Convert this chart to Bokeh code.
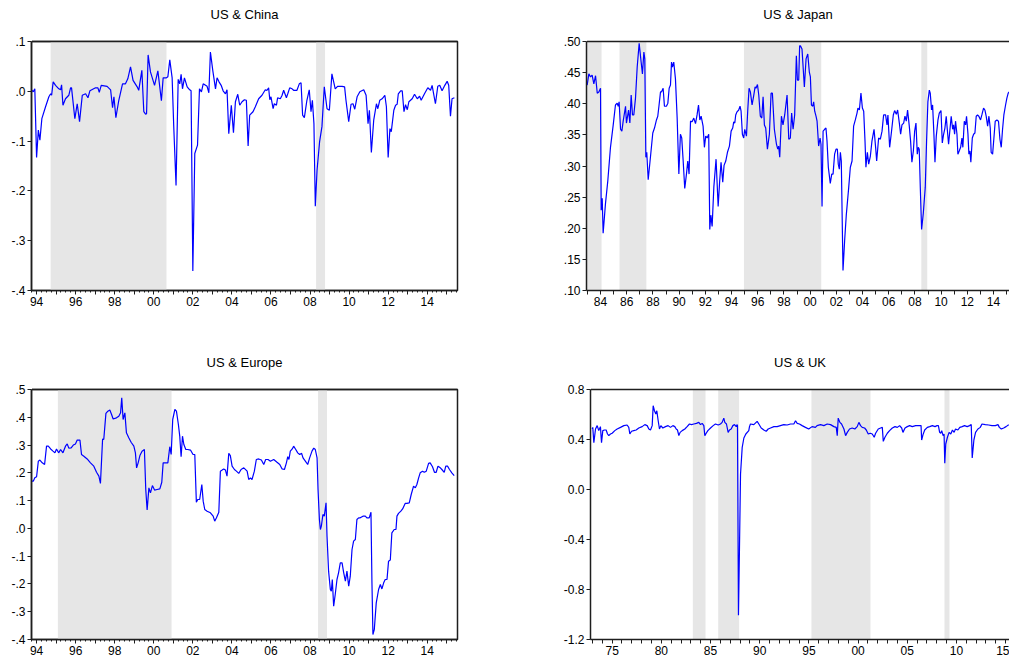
from bokeh.plotting import figure
from bokeh.models import Range1d, FixedTicker, ColumnDataSource, LinearAxis, Title
from bokeh.layouts import row, column
from bokeh.embed import file_html
from bokeh.resources import INLINE

# ---------------- data (decimal year, correlation) ----------------
china_pts = [
    (1993.74, 0.003), (1993.83, -0.001), (1993.91, 0.005), (1994.00, -0.133), (1994.09, -0.078),
    (1994.17, -0.098), (1994.27, -0.055), (1994.46, -0.031), (1994.63, -0.011), (1994.72, -0.005),
    (1994.77, -0.008), (1994.85, 0.019), (1994.97, 0.012), (1995.14, 0.005), (1995.23, 0.003),
    (1995.28, 0.013), (1995.35, -0.028), (1995.48, -0.015), (1995.65, -0.008), (1995.74, 0.007),
    (1995.79, 0.007), (1995.96, -0.055), (1996.08, -0.025), (1996.20, -0.061), (1996.34, -0.008),
    (1996.51, -0.005), (1996.63, -0.013), (1996.73, 0.001), (1997.02, 0.007), (1997.14, 0.007),
    (1997.21, -0.002), (1997.31, 0.012), (1997.61, 0.010), (1997.79, 0.003), (1997.89, -0.033),
    (1997.96, -0.011), (1998.06, -0.053), (1998.21, -0.018), (1998.40, 0.015), (1998.55, 0.015),
    (1998.67, 0.025), (1998.81, 0.049), (1998.94, 0.022), (1999.15, 0.009), (1999.23, 0.002),
    (1999.39, 0.042), (1999.49, -0.041), (1999.58, -0.046), (1999.63, -0.045), (1999.71, 0.073),
    (1999.83, 0.039), (2000.04, 0.012), (2000.21, 0.041), (2000.39, -0.019), (2000.48, 0.027),
    (2000.65, 0.027), (2000.72, 0.029), (2000.82, 0.063), (2000.94, 0.027), (2001.02, -0.068),
    (2001.14, -0.189), (2001.25, 0.024), (2001.33, 0.015), (2001.40, 0.034), (2001.47, 0.005),
    (2001.57, 0.027), (2001.71, 0.009), (2001.84, 0.003), (2001.91, 0.001), (2002.00, -0.361),
    (2002.10, -0.125), (2002.24, -0.108), (2002.34, 0.005), (2002.44, -0.001), (2002.53, 0.015),
    (2002.73, 0.010), (2002.82, -0.003), (2002.90, 0.079), (2003.02, 0.042), (2003.16, 0.005),
    (2003.24, 0.027), (2003.34, 0.019), (2003.45, 0.012), (2003.55, 0.001), (2003.67, -0.005),
    (2003.75, 0.003), (2003.84, -0.085), (2003.97, -0.028), (2004.08, -0.083), (2004.18, -0.021),
    (2004.30, -0.006), (2004.40, -0.028), (2004.52, -0.021), (2004.64, -0.017), (2004.74, -0.018),
    (2004.83, -0.110), (2004.91, -0.048), (2005.08, -0.041), (2005.20, -0.031), (2005.37, -0.015),
    (2005.54, -0.008), (2005.71, 0.003), (2005.80, 0.002), (2005.88, 0.007), (2005.94, -0.017),
    (2006.00, -0.011), (2006.11, -0.035), (2006.17, -0.025), (2006.28, -0.028), (2006.34, -0.013),
    (2006.48, -0.015), (2006.57, -0.008), (2006.65, 0.002), (2006.79, -0.013), (2006.86, -0.005),
    (2006.96, 0.007), (2007.08, 0.005), (2007.16, 0.002), (2007.33, 0.002), (2007.45, 0.015),
    (2007.54, 0.017), (2007.62, -0.048), (2007.71, -0.053), (2007.84, -0.018), (2007.96, 0.003),
    (2008.05, -0.041), (2008.12, -0.018), (2008.20, -0.065), (2008.27, -0.231), (2008.36, -0.158),
    (2008.49, -0.101), (2008.61, -0.071), (2008.73, 0.009), (2008.87, -0.035), (2008.99, -0.038),
    (2009.12, 0.035), (2009.29, 0.005), (2009.41, 0.010), (2009.64, 0.010), (2009.77, 0.009),
    (2009.84, -0.018), (2009.98, -0.061), (2010.10, -0.026), (2010.20, -0.025), (2010.29, -0.036),
    (2010.41, -0.011), (2010.55, -0.001), (2010.75, 0.003), (2010.87, -0.008), (2010.97, -0.065),
    (2011.04, -0.038), (2011.14, -0.123), (2011.26, -0.058), (2011.40, -0.025), (2011.47, -0.035),
    (2011.57, -0.018), (2011.69, -0.015), (2011.83, -0.008), (2011.91, -0.031), (2012.00, -0.133),
    (2012.09, -0.075), (2012.16, -0.081), (2012.29, -0.038), (2012.38, -0.028), (2012.46, -0.026),
    (2012.52, -0.005), (2012.64, 0.001), (2012.72, 0.001), (2012.81, -0.041), (2012.89, -0.027),
    (2012.98, -0.037), (2013.06, -0.021), (2013.23, -0.015), (2013.35, -0.006), (2013.49, -0.015),
    (2013.61, -0.010), (2013.69, -0.018), (2013.86, -0.005), (2014.03, 0.007), (2014.17, 0.002),
    (2014.25, 0.012), (2014.42, -0.025), (2014.54, 0.010), (2014.64, 0.012), (2014.76, 0.001),
    (2014.90, 0.012), (2015.02, 0.020), (2015.10, 0.012), (2015.19, -0.050), (2015.27, -0.015),
    (2015.39, -0.013),
]

japan_pts = [
    (1982.98, 0.430), (1983.11, 0.448), (1983.24, 0.443), (1983.36, 0.446), (1983.49, 0.432),
    (1983.62, 0.445), (1983.75, 0.417), (1983.87, 0.419), (1984.00, 0.425), (1984.05, 0.229),
    (1984.13, 0.248), (1984.20, 0.192), (1984.38, 0.240), (1984.56, 0.277), (1984.76, 0.330),
    (1984.97, 0.366), (1985.14, 0.398), (1985.27, 0.401), (1985.35, 0.396), (1985.42, 0.403),
    (1985.53, 0.359), (1985.63, 0.356), (1985.73, 0.372), (1985.91, 0.396), (1985.98, 0.369),
    (1986.14, 0.390), (1986.24, 0.369), (1986.34, 0.414), (1986.44, 0.382), (1986.54, 0.382),
    (1986.67, 0.409), (1986.80, 0.459), (1986.95, 0.497), (1987.10, 0.467), (1987.20, 0.448),
    (1987.31, 0.483), (1987.38, 0.472), (1987.46, 0.314), (1987.53, 0.322), (1987.64, 0.278),
    (1987.81, 0.314), (1987.99, 0.353), (1988.12, 0.361), (1988.27, 0.374), (1988.37, 0.380),
    (1988.47, 0.398), (1988.58, 0.419), (1988.65, 0.419), (1988.78, 0.425), (1988.88, 0.396),
    (1989.03, 0.396), (1989.14, 0.401), (1989.24, 0.425), (1989.34, 0.430), (1989.42, 0.467),
    (1989.49, 0.459), (1989.59, 0.467), (1989.72, 0.440), (1989.85, 0.377), (1989.98, 0.287),
    (1990.10, 0.351), (1990.20, 0.345), (1990.31, 0.308), (1990.43, 0.264), (1990.56, 0.287),
    (1990.66, 0.308), (1990.76, 0.287), (1990.87, 0.372), (1990.99, 0.371), (1991.12, 0.377),
    (1991.25, 0.368), (1991.37, 0.382), (1991.48, 0.398), (1991.58, 0.374), (1991.68, 0.380),
    (1991.83, 0.364), (1991.93, 0.330), (1992.03, 0.348), (1992.14, 0.345), (1992.26, 0.351),
    (1992.34, 0.198), (1992.42, 0.221), (1992.52, 0.203), (1992.65, 0.266), (1992.82, 0.311),
    (1992.98, 0.235), (1993.10, 0.277), (1993.20, 0.306), (1993.33, 0.274), (1993.43, 0.301),
    (1993.56, 0.308), (1993.69, 0.322), (1993.84, 0.332), (1993.97, 0.356), (1994.09, 0.361),
    (1994.17, 0.371), (1994.25, 0.369), (1994.32, 0.382), (1994.42, 0.387), (1994.55, 0.390),
    (1994.65, 0.396), (1994.73, 0.388), (1994.83, 0.351), (1994.93, 0.345), (1995.01, 0.359),
    (1995.14, 0.348), (1995.24, 0.390), (1995.34, 0.425), (1995.44, 0.419), (1995.57, 0.398),
    (1995.70, 0.414), (1995.80, 0.427), (1995.87, 0.425), (1995.98, 0.431), (1996.08, 0.414),
    (1996.20, 0.380), (1996.31, 0.377), (1996.41, 0.411), (1996.51, 0.366), (1996.61, 0.361),
    (1996.74, 0.327), (1996.89, 0.351), (1997.02, 0.417), (1997.12, 0.417), (1997.27, 0.359),
    (1997.43, 0.335), (1997.53, 0.327), (1997.60, 0.332), (1997.68, 0.314), (1997.81, 0.380),
    (1997.93, 0.366), (1998.06, 0.382), (1998.24, 0.414), (1998.37, 0.343), (1998.49, 0.345),
    (1998.59, 0.385), (1998.70, 0.359), (1998.82, 0.382), (1998.95, 0.477), (1999.03, 0.438),
    (1999.13, 0.438), (1999.20, 0.493), (1999.26, 0.493), (1999.38, 0.488), (1999.46, 0.461),
    (1999.56, 0.427), (1999.69, 0.472), (1999.82, 0.480), (1999.94, 0.451), (2000.02, 0.443),
    (2000.10, 0.398), (2000.20, 0.396), (2000.27, 0.403), (2000.35, 0.388), (2000.45, 0.380),
    (2000.53, 0.372), (2000.65, 0.332), (2000.76, 0.345), (2000.83, 0.335), (2000.91, 0.235),
    (2000.99, 0.356), (2001.11, 0.359), (2001.21, 0.361), (2001.29, 0.340), (2001.39, 0.298),
    (2001.54, 0.272), (2001.65, 0.287), (2001.75, 0.287), (2001.87, 0.319), (2001.98, 0.327),
    (2002.08, 0.327), (2002.15, 0.303), (2002.23, 0.295), (2002.31, 0.322), (2002.38, 0.308),
    (2002.51, 0.132), (2002.64, 0.182), (2002.76, 0.221), (2002.94, 0.264), (2003.07, 0.298),
    (2003.20, 0.308), (2003.32, 0.364), (2003.45, 0.374), (2003.58, 0.385), (2003.65, 0.393),
    (2003.76, 0.390), (2003.88, 0.417), (2003.99, 0.393), (2004.09, 0.388), (2004.19, 0.340),
    (2004.26, 0.298), (2004.37, 0.322), (2004.47, 0.303), (2004.60, 0.316), (2004.72, 0.340),
    (2004.88, 0.359), (2005.00, 0.330), (2005.08, 0.308), (2005.23, 0.345), (2005.36, 0.343),
    (2005.49, 0.356), (2005.61, 0.382), (2005.76, 0.382), (2005.87, 0.366), (2005.94, 0.382),
    (2006.07, 0.330), (2006.20, 0.353), (2006.35, 0.382), (2006.45, 0.389), (2006.58, 0.383),
    (2006.68, 0.390), (2006.81, 0.369), (2006.91, 0.351), (2007.01, 0.366), (2007.14, 0.369),
    (2007.24, 0.380), (2007.34, 0.372), (2007.44, 0.390), (2007.57, 0.364), (2007.67, 0.340),
    (2007.77, 0.306), (2007.88, 0.324), (2007.98, 0.356), (2008.08, 0.369), (2008.18, 0.319),
    (2008.26, 0.330), (2008.33, 0.327), (2008.41, 0.266), (2008.51, 0.198), (2008.64, 0.224),
    (2008.79, 0.266), (2008.89, 0.340), (2008.99, 0.403), (2009.10, 0.422), (2009.17, 0.417),
    (2009.27, 0.390), (2009.35, 0.398), (2009.45, 0.351), (2009.53, 0.306), (2009.63, 0.348),
    (2009.76, 0.374), (2009.86, 0.385), (2009.99, 0.389), (2010.09, 0.337), (2010.19, 0.351),
    (2010.29, 0.361), (2010.39, 0.380), (2010.47, 0.359), (2010.57, 0.335), (2010.65, 0.353),
    (2010.77, 0.380), (2010.88, 0.359), (2010.95, 0.366), (2011.03, 0.351), (2011.10, 0.372),
    (2011.21, 0.351), (2011.28, 0.319), (2011.38, 0.324), (2011.49, 0.330), (2011.59, 0.345),
    (2011.66, 0.330), (2011.77, 0.372), (2011.87, 0.366), (2011.94, 0.380), (2012.05, 0.351),
    (2012.12, 0.319), (2012.20, 0.324), (2012.27, 0.306), (2012.38, 0.345), (2012.48, 0.351),
    (2012.58, 0.353), (2012.68, 0.380), (2012.78, 0.382), (2012.88, 0.380), (2013.01, 0.374),
    (2013.11, 0.382), (2013.24, 0.393), (2013.34, 0.390), (2013.44, 0.380), (2013.55, 0.364),
    (2013.65, 0.380), (2013.75, 0.361), (2013.82, 0.322), (2013.93, 0.319), (2014.03, 0.345),
    (2014.13, 0.372), (2014.26, 0.374), (2014.38, 0.372), (2014.49, 0.343), (2014.59, 0.330),
    (2014.69, 0.359), (2014.79, 0.382), (2014.92, 0.398), (2015.02, 0.409), (2015.12, 0.417),
    (2015.20, 0.419),
]

europe_pts = [
    (1993.74, 0.170), (1993.83, 0.170), (1993.91, 0.182), (1994.00, 0.186), (1994.09, 0.242),
    (1994.17, 0.246), (1994.29, 0.236), (1994.41, 0.230), (1994.51, 0.296), (1994.60, 0.296),
    (1994.72, 0.286), (1994.84, 0.278), (1994.94, 0.272), (1995.02, 0.286), (1995.13, 0.272),
    (1995.23, 0.284), (1995.35, 0.272), (1995.48, 0.296), (1995.57, 0.304), (1995.65, 0.289),
    (1995.77, 0.290), (1995.88, 0.300), (1995.99, 0.304), (1996.08, 0.318), (1996.22, 0.318),
    (1996.30, 0.266), (1996.42, 0.260), (1996.59, 0.250), (1996.76, 0.236), (1996.93, 0.224),
    (1997.07, 0.202), (1997.19, 0.188), (1997.27, 0.162), (1997.38, 0.322), (1997.44, 0.320),
    (1997.55, 0.414), (1997.65, 0.422), (1997.75, 0.426), (1997.84, 0.410), (1997.92, 0.394),
    (1998.09, 0.398), (1998.21, 0.404), (1998.30, 0.416), (1998.36, 0.470), (1998.43, 0.392),
    (1998.52, 0.416), (1998.60, 0.344), (1998.72, 0.326), (1998.84, 0.310), (1998.98, 0.296),
    (1999.06, 0.272), (1999.12, 0.218), (1999.20, 0.236), (1999.29, 0.262), (1999.40, 0.278),
    (1999.52, 0.284), (1999.59, 0.140), (1999.66, 0.066), (1999.75, 0.146), (1999.83, 0.128),
    (1999.93, 0.154), (2000.04, 0.138), (2000.17, 0.140), (2000.31, 0.142), (2000.41, 0.166),
    (2000.48, 0.236), (2000.60, 0.236), (2000.72, 0.236), (2000.82, 0.294), (2000.89, 0.266),
    (2000.97, 0.392), (2001.08, 0.428), (2001.16, 0.422), (2001.26, 0.374), (2001.33, 0.332),
    (2001.40, 0.258), (2001.47, 0.332), (2001.54, 0.302), (2001.64, 0.284), (2001.74, 0.284),
    (2001.88, 0.282), (2002.01, 0.266), (2002.10, 0.266), (2002.18, 0.094), (2002.25, 0.104),
    (2002.35, 0.104), (2002.46, 0.158), (2002.53, 0.098), (2002.61, 0.068), (2002.73, 0.062),
    (2002.90, 0.056), (2003.04, 0.044), (2003.12, 0.026), (2003.21, 0.038), (2003.33, 0.058),
    (2003.41, 0.206), (2003.50, 0.210), (2003.58, 0.214), (2003.67, 0.210), (2003.75, 0.188),
    (2003.84, 0.270), (2003.92, 0.262), (2004.01, 0.224), (2004.13, 0.212), (2004.23, 0.206),
    (2004.35, 0.198), (2004.47, 0.212), (2004.61, 0.218), (2004.78, 0.206), (2004.86, 0.176),
    (2004.95, 0.182), (2005.03, 0.176), (2005.15, 0.206), (2005.25, 0.248), (2005.37, 0.250),
    (2005.51, 0.246), (2005.63, 0.230), (2005.73, 0.248), (2005.85, 0.248), (2005.97, 0.242),
    (2006.14, 0.248), (2006.31, 0.238), (2006.45, 0.230), (2006.57, 0.214), (2006.69, 0.212),
    (2006.79, 0.236), (2006.86, 0.258), (2006.92, 0.248), (2006.99, 0.278), (2007.09, 0.286),
    (2007.16, 0.296), (2007.27, 0.284), (2007.37, 0.272), (2007.47, 0.266), (2007.57, 0.270),
    (2007.64, 0.254), (2007.76, 0.242), (2007.88, 0.230), (2007.98, 0.254), (2008.10, 0.278),
    (2008.19, 0.289), (2008.27, 0.284), (2008.36, 0.254), (2008.41, 0.140), (2008.48, 0.032),
    (2008.53, -0.004), (2008.58, 0.008), (2008.66, 0.050), (2008.73, 0.044), (2008.82, 0.092),
    (2008.87, -0.028), (2008.95, -0.154), (2009.04, -0.220), (2009.09, -0.226), (2009.14, -0.184),
    (2009.21, -0.280), (2009.29, -0.238), (2009.38, -0.184), (2009.46, -0.160), (2009.55, -0.124),
    (2009.64, -0.124), (2009.72, -0.158), (2009.81, -0.190), (2009.89, -0.154), (2009.98, -0.208),
    (2010.06, -0.172), (2010.15, -0.076), (2010.23, -0.046), (2010.32, -0.040), (2010.40, 0.032),
    (2010.49, 0.038), (2010.57, 0.038), (2010.71, 0.044), (2010.83, 0.044), (2010.91, 0.038),
    (2011.03, 0.038), (2011.12, 0.058), (2011.17, -0.196), (2011.22, -0.382), (2011.29, -0.364),
    (2011.39, -0.268), (2011.51, -0.220), (2011.60, -0.202), (2011.68, -0.218), (2011.77, -0.196),
    (2011.85, -0.184), (2011.94, -0.184), (2012.02, -0.118), (2012.11, -0.114), (2012.19, -0.016),
    (2012.31, -0.004), (2012.40, -0.004), (2012.45, 0.044), (2012.53, 0.054), (2012.65, 0.062),
    (2012.74, 0.070), (2012.87, 0.090), (2012.96, 0.090), (2013.08, 0.092), (2013.18, 0.122),
    (2013.30, 0.152), (2013.39, 0.146), (2013.47, 0.158), (2013.56, 0.182), (2013.64, 0.200),
    (2013.76, 0.206), (2013.85, 0.202), (2013.95, 0.206), (2014.07, 0.234), (2014.15, 0.236),
    (2014.27, 0.222), (2014.37, 0.202), (2014.46, 0.202), (2014.55, 0.224), (2014.67, 0.218),
    (2014.75, 0.212), (2014.87, 0.202), (2014.95, 0.224), (2015.04, 0.224), (2015.14, 0.212),
    (2015.26, 0.200), (2015.38, 0.190),
]

uk_pts = [
    (1972.97, 0.484), (1973.03, 0.497), (1973.14, 0.375), (1973.31, 0.484), (1973.48, 0.511),
    (1973.64, 0.471), (1973.81, 0.503), (1973.92, 0.375), (1974.05, 0.471), (1974.22, 0.476),
    (1974.39, 0.476), (1974.53, 0.444), (1974.66, 0.431), (1974.83, 0.444), (1975.00, 0.450),
    (1975.27, 0.471), (1975.51, 0.484), (1975.85, 0.497), (1976.19, 0.511), (1976.52, 0.516),
    (1976.69, 0.497), (1976.80, 0.444), (1976.97, 0.466), (1977.20, 0.471), (1977.44, 0.476),
    (1977.71, 0.492), (1978.05, 0.503), (1978.32, 0.519), (1978.56, 0.511), (1978.73, 0.484),
    (1978.90, 0.476), (1979.07, 0.511), (1979.17, 0.670), (1979.30, 0.630), (1979.44, 0.604),
    (1979.54, 0.630), (1979.68, 0.550), (1979.81, 0.484), (1979.95, 0.511), (1980.15, 0.492),
    (1980.42, 0.503), (1980.69, 0.511), (1980.93, 0.497), (1981.17, 0.511), (1981.37, 0.503),
    (1981.51, 0.484), (1981.64, 0.476), (1981.78, 0.431), (1981.91, 0.457), (1982.12, 0.471),
    (1982.39, 0.484), (1982.62, 0.503), (1982.86, 0.524), (1983.07, 0.519), (1983.30, 0.524),
    (1983.57, 0.529), (1983.81, 0.537), (1983.98, 0.519), (1984.15, 0.529), (1984.32, 0.511),
    (1984.42, 0.431), (1984.56, 0.450), (1984.73, 0.471), (1985.00, 0.492), (1985.27, 0.511),
    (1985.50, 0.524), (1985.78, 0.516), (1986.01, 0.524), (1986.18, 0.537), (1986.35, 0.571),
    (1986.45, 0.537), (1986.62, 0.524), (1986.79, 0.457), (1986.93, 0.476), (1987.10, 0.484),
    (1987.27, 0.511), (1987.44, 0.519), (1987.61, 0.503), (1987.71, 0.519), (1987.74, 0.510),
    (1987.84, -1.006), (1987.94, -0.487), (1988.05, 0.124), (1988.22, 0.337), (1988.39, 0.412),
    (1988.59, 0.444), (1988.89, 0.471), (1988.96, 0.503), (1989.06, 0.524), (1989.40, 0.519),
    (1989.74, 0.545), (1989.91, 0.524), (1990.15, 0.492), (1990.42, 0.476), (1990.66, 0.466),
    (1990.86, 0.484), (1991.10, 0.492), (1991.44, 0.503), (1991.77, 0.503), (1992.11, 0.511),
    (1992.45, 0.519), (1992.79, 0.516), (1993.13, 0.524), (1993.47, 0.524), (1993.64, 0.550),
    (1993.81, 0.529), (1994.04, 0.524), (1994.31, 0.511), (1994.65, 0.497), (1994.98, 0.484),
    (1995.32, 0.503), (1995.66, 0.497), (1995.83, 0.511), (1996.18, 0.519), (1996.52, 0.511),
    (1996.86, 0.524), (1997.20, 0.519), (1997.54, 0.503), (1997.78, 0.497), (1997.88, 0.431),
    (1997.98, 0.571), (1998.15, 0.537), (1998.32, 0.524), (1998.56, 0.484), (1998.73, 0.431),
    (1998.90, 0.457), (1999.13, 0.484), (1999.40, 0.492), (1999.67, 0.484), (1999.91, 0.503),
    (2000.08, 0.537), (2000.25, 0.511), (2000.42, 0.497), (2000.66, 0.492), (2000.83, 0.476),
    (2001.03, 0.444), (2001.24, 0.450), (2001.44, 0.444), (2001.64, 0.418), (2001.78, 0.450),
    (2002.05, 0.484), (2002.29, 0.492), (2002.46, 0.497), (2002.56, 0.385), (2002.73, 0.418),
    (2002.97, 0.450), (2003.20, 0.471), (2003.48, 0.492), (2003.75, 0.503), (2003.99, 0.497),
    (2004.22, 0.511), (2004.43, 0.492), (2004.56, 0.457), (2004.77, 0.492), (2005.00, 0.503),
    (2005.24, 0.511), (2005.51, 0.503), (2005.85, 0.511), (2006.19, 0.511), (2006.40, 0.511),
    (2006.46, 0.396), (2006.60, 0.439), (2006.77, 0.476), (2007.04, 0.497), (2007.28, 0.503),
    (2007.55, 0.511), (2007.82, 0.503), (2008.02, 0.511), (2008.16, 0.511), (2008.29, 0.457),
    (2008.40, 0.450), (2008.50, 0.471), (2008.64, 0.431), (2008.74, 0.444), (2008.81, 0.210),
    (2008.91, 0.364), (2009.08, 0.418), (2009.25, 0.457), (2009.42, 0.444), (2009.59, 0.476),
    (2009.76, 0.457), (2009.90, 0.484), (2010.14, 0.476), (2010.34, 0.497), (2010.58, 0.503),
    (2010.82, 0.511), (2011.09, 0.503), (2011.33, 0.511), (2011.50, 0.519), (2011.60, 0.252),
    (2011.77, 0.396), (2011.94, 0.457), (2012.18, 0.484), (2012.42, 0.497), (2012.59, 0.524),
    (2012.93, 0.519), (2013.27, 0.516), (2013.61, 0.511), (2013.95, 0.511), (2014.22, 0.519),
    (2014.36, 0.497), (2014.56, 0.484), (2014.80, 0.492), (2015.04, 0.503), (2015.31, 0.519),
]

# shaded periods (start, end) in decimal years
china_shade_start = [1994.72, 2008.31]
china_shade_end = [2000.65, 2008.77]
japan_shade_start = [1982.90, 1985.45, 1994.95, 2008.49]
japan_shade_end = [1984.08, 1987.50, 2000.85, 2008.94]
europe_shade_start = [1995.09, 2008.41]
europe_shade_end = [2000.91, 2008.87]
uk_shade_start = [1983.20, 1985.78, 1995.26, 2008.78]
uk_shade_end = [1984.49, 1987.91, 2001.26, 2009.29]

# tick labels
china_yticks = [-0.4, -0.3, -0.2, -0.1, 0.0, 0.1]
china_ylabels = ["-.4", "-.3", "-.2", "-.1", ".0", ".1"]
japan_yticks = [0.10, 0.15, 0.20, 0.25, 0.30, 0.35, 0.40, 0.45, 0.50]
japan_ylabels = [".10", ".15", ".20", ".25", ".30", ".35", ".40", ".45", ".50"]
europe_yticks = [-0.4, -0.3, -0.2, -0.1, 0.0, 0.1, 0.2, 0.3, 0.4, 0.5]
europe_ylabels = ["-.4", "-.3", "-.2", "-.1", ".0", ".1", ".2", ".3", ".4", ".5"]
uk_yticks = [-1.2, -0.8, -0.4, 0.0, 0.4, 0.8]
uk_ylabels = ["-1.2", "-0.8", "-0.4", "0.0", "0.4", "0.8"]

FONT = "Liberation Sans"
AX = "#1e1e1e"
SHADE = "#e6e6e6"
BLUE = "#0000ff"


def year_labels(first, last, label_step):
    return {t: (("%02d" % (t % 100)) if t % label_step == 0 else "") for t in range(first, last + 1)}


def panel(title, pts, s_start, s_end, xr, yr, yticks, ylabels, xt_first, xt_last, label_step,
          quarter_minor, width, height, bl, br, bt, bb, boxed):
    p = figure(width=width, height=height, output_backend="svg", toolbar_location=None,
               x_range=Range1d(*xr), y_range=Range1d(*yr),
               min_border_left=bl, min_border_right=br, min_border_top=bt, min_border_bottom=bb,
               background_fill_color="white", border_fill_color="white")
    p.title.text = ""
    # top edge line; its blank tick band lifts the title away from the frame
    top = LinearAxis(ticker=FixedTicker(ticks=[xr[0]]), major_tick_out=18, major_tick_in=0,
                     major_tick_line_color="white", major_tick_line_width=1,
                     minor_tick_line_color=None,
                     major_label_overrides={xr[0]: ""}, major_label_text_font_size="1px",
                     major_label_standoff=0,
                     axis_line_color=AX, axis_line_width=1.5)
    p.add_layout(top, "above")
    p.add_layout(Title(text=title, align="center", text_font=FONT, text_font_size="13px",
                       text_font_style="normal", text_color="black", standoff=4), "above")

    p.grid.visible = False
    if boxed:
        p.outline_line_color = AX
        p.outline_line_width = 1.5
    else:
        p.outline_line_color = None

    shade = ColumnDataSource(dict(s=s_start, e=s_end))
    p.quad(left="s", right="e", bottom=yr[0], top=yr[1], source=shade,
           fill_color=SHADE, line_color=None)

    src = ColumnDataSource(dict(t=[a for a, b in pts], v=[b for a, b in pts]))
    p.line(x="t", y="v", source=src, line_color=BLUE, line_width=1.2)

    ticks = list(range(xt_first, xt_last + 1))
    minor = []
    if quarter_minor:
        minor = [t + q / 4 for t in range(xt_first - 1, xt_last + 1) for q in range(4)]
    xax = p.below[0]
    yax = p.left[0]
    xax.ticker = FixedTicker(ticks=ticks, minor_ticks=minor)
    xax.major_label_overrides = year_labels(xt_first, xt_last, label_step)
    yax.ticker = FixedTicker(ticks=yticks)
    yax.major_label_overrides = dict(zip(yticks, ylabels))

    for ax in (xax, yax):
        ax.axis_line_color = AX
        ax.axis_line_width = 1.5
        ax.major_tick_line_color = AX
        ax.major_tick_line_width = 1
        ax.major_tick_in = 0
        ax.major_tick_out = 4
        ax.minor_tick_in = 0
        ax.minor_tick_out = 2
        ax.minor_tick_line_color = AX
        ax.major_label_text_font = FONT
        ax.major_label_text_font_size = "12px"
        ax.major_label_text_color = "black"
        ax.major_label_standoff = 2
    yax.minor_tick_line_color = None
    if not quarter_minor:
        xax.minor_tick_line_color = None
    return p


p1 = panel("US & China", china_pts, china_shade_start, china_shade_end,
           (1993.74, 2015.55), (-0.4, 0.1), china_yticks, china_ylabels, 1994, 2015, 2, True,
           500, 345, 31, 43, 41, 55, True)
p2 = panel("US & Japan", japan_pts, japan_shade_start, japan_shade_end,
           (1982.93, 2015.22), (0.10, 0.50), japan_yticks, japan_ylabels, 1983, 2015, 2, False,
           509, 345, 86, 0, 41, 52, False)
p3 = panel("US & Europe", europe_pts, europe_shade_start, europe_shade_end,
           (1993.74, 2015.55), (-0.4, 0.5), europe_yticks, europe_ylabels, 1994, 2015, 2, True,
           500, 315, 31, 43, 44, 20, True)
p4 = panel("US & UK", uk_pts, uk_shade_start, uk_shade_end,
           (1972.80, 2015.39), (-1.2, 0.8), uk_yticks, uk_ylabels, 1973, 2015, 5, False,
           509, 315, 90, 0, 44, 21, False)

layout = column(row(p1, p2, spacing=0), row(p3, p4, spacing=0), spacing=0)

open("out.html", "w").write(file_html(layout, INLINE))
